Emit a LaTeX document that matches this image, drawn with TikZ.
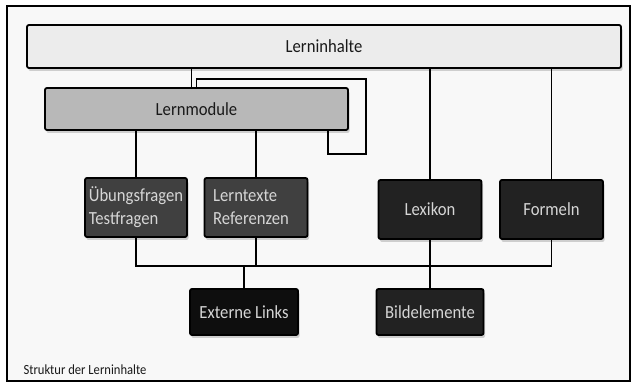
\documentclass[tikz,border=0pt]{standalone}
\usepackage{fontspec}
\setmainfont{Carlito}[FakeStretch=0.9]
\usetikzlibrary{shadows, calc}
\definecolor{paper}{HTML}{F8F8F8}
\definecolor{toplevel}{HTML}{ECECEC}
\definecolor{modgray}{HTML}{B8B8B8}
\definecolor{darkgray}{HTML}{404040}
\definecolor{nearblack}{HTML}{222222}
\definecolor{deepblack}{HTML}{0E0E0E}
\definecolor{lighttext}{HTML}{D6D6D6}
\tikzstyle{box} = [
    rectangle,
    rounded corners=2pt,
    draw=black,
    line width=1.8pt,
    font=\fontsize{18.5}{23}\selectfont,
    drop shadow={shadow xshift=1.5pt, shadow yshift=-3pt, opacity=0.35}
]
\tikzstyle{lightbox} = [box, text=black!90]
\tikzstyle{darkbox} = [
    box,
    text=lighttext,
    minimum width=103pt,
    minimum height=59pt,
    align=left
]
\tikzstyle{link} = [line width=1.4pt]

\begin{document}
\begin{tikzpicture}[x=1pt, y=-1pt]

\useasboundingbox (0,0) rectangle (633,382);
\draw [line width=1.5pt, fill=paper] (7,6) rectangle (630,381);

\node (inhalte) [lightbox, fill=toplevel, minimum width=594pt, minimum height=43pt]
at (324,46.5) {Lerninhalte};

\node (module) [lightbox, fill=modgray, minimum width=303pt, minimum height=42pt]
at (196.5,109) {Lernmodule};

\node (uebung) [darkbox, fill=darkgray, minimum width=102pt] at (136,207.5)
{Übungsfragen\\Testfragen};

\node (lerntexte) [darkbox, fill=darkgray] at (256,207.5)
{Lerntexte\\Referenzen\hspace*{10pt}};

\node (lexikon) [darkbox, fill=nearblack, align=center] at (430,209.5)
{Lexikon};

\node (formeln) [darkbox, fill=nearblack, align=center] at (551.5,209.5)
{Formeln};

\node (extern) [darkbox, fill=deepblack, minimum width=108pt, minimum height=46pt] at (244,312)
{Externe Links};

\node (bild) [darkbox, fill=nearblack, minimum width=107pt, minimum height=46pt] at (430,312)
{Bildelemente};

\node (caption) [anchor=west, font=\fontsize{14}{16}\selectfont, text=black!90] at (20,370)
{Struktur der Lerninhalte};

\coordinate (bus) at ($(uebung.south)+(0,28)$);

% Verbindungen von oben
\draw [link] ([xshift=-5pt]inhalte.south -| module.north) -- ([xshift=-5pt]module.north);
\draw [link] (module.north) -- ++(0,-8) -| ([xshift=17pt,yshift=-23pt]module.south east)
    -| ([xshift=-21pt]module.south east);
\draw [link] (inhalte.south -| lexikon.north) -- (lexikon.north);
\draw [link] (inhalte.south -| formeln.north) -- (formeln.north);
\draw [link] (module.south -| uebung.north) -- (uebung.north);
\draw [link] (module.south -| lerntexte.north) -- (lerntexte.north);

% Sammelleitung unten
\draw [link] (uebung.south) -- (bus) -| (formeln.south);
\draw [link] (lerntexte.south) -- (lerntexte.south |- bus);
\draw [link] (lexikon.south) -- (bild.north);
\draw [link] (bus -| extern.north) -- (extern.north);

\end{tikzpicture}
\end{document}
